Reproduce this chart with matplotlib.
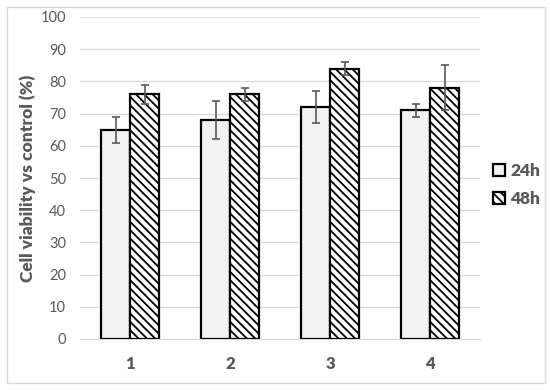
#------------------------------------------------imports---------------------------------------------------------------
import numpy as np
import matplotlib
matplotlib.use('Agg')
import matplotlib.pyplot as plt
from matplotlib.patches import Rectangle

#--------------------------------------------------data----------------------------------------------------------------
categories = ['1', '2', '3', '4']
vals_24h = [65, 68, 72, 71]
err_24h = [4, 6, 5, 2]
vals_48h = [76, 76, 84, 78]
err_48h = [3, 2, 2, 7]
series_names = ['24h', '48h']

#-------------------------------------------------settings-------------------------------------------------------------
plt.rcParams['font.family'] = ['Lato', 'DejaVu Sans']
plt.rcParams['hatch.linewidth'] = 1.3
GREY = '#595959'

#---------------------------------------------------plotting-----------------------------------------------------------
fig = plt.figure(figsize=(5.5, 3.9), dpi=100)
ax = fig.add_axes([80/550, 1-339/390, 400/550, 322/390])

x = np.arange(len(categories))
w = 0.29
ax.bar(x - w/2, vals_24h, w, color='#f2f2f2', edgecolor='black', linewidth=1.6,
       label=series_names[0], zorder=3)
ax.bar(x + w/2, vals_48h, w, color='white', edgecolor='black', linewidth=1.6,
       hatch='\\\\\\\\', label=series_names[1], zorder=3)
ax.errorbar(x - w/2, vals_24h, yerr=err_24h, fmt='none', ecolor=GREY,
            elinewidth=1.2, capsize=3, capthick=1.2, zorder=4)
ax.errorbar(x + w/2, vals_48h, yerr=err_48h, fmt='none', ecolor=GREY,
            elinewidth=1.2, capsize=3, capthick=1.2, zorder=4)

ax.set_xlim(-0.5, len(categories) - 0.5)
ax.set_ylim(0, 100)
ax.set_yticks(range(0, 101, 10))
ax.set_xticks(x)
ax.set_xticklabels(categories, fontsize=12, fontweight='heavy', color=GREY)
ax.tick_params(axis='y', labelsize=10.5, colors=GREY, length=0, pad=10)
ax.tick_params(axis='x', length=0, pad=12)
ax.grid(axis='y', color='#d9d9d9', linewidth=0.9, zorder=0)
for s in ['top', 'right', 'left']:
    ax.spines[s].set_visible(False)
ax.spines['bottom'].set_color('#d9d9d9')
ax.set_ylabel('Cell viability vs control (%)', fontsize=12.5, fontweight='heavy',
              color=GREY, labelpad=3)

leg = ax.legend(loc='center left', bbox_to_anchor=(1.0, 0.478), frameon=False,
                fontsize=12.5, handlelength=0.7, handleheight=0.7,
                handletextpad=0.3, labelspacing=0.65, borderpad=0.2,
                borderaxespad=0.55)
for t in leg.get_texts():
    t.set_fontweight('heavy')
    t.set_color(GREY)

fig.patches.append(Rectangle((7/550, 7/390), 538/550, 376/390, transform=fig.transFigure,
                             fill=False, edgecolor='#d9d9d9', linewidth=1))

#----------------------------------------------------saving------------------------------------------------------------
fig.savefig('out.png', dpi=100)
